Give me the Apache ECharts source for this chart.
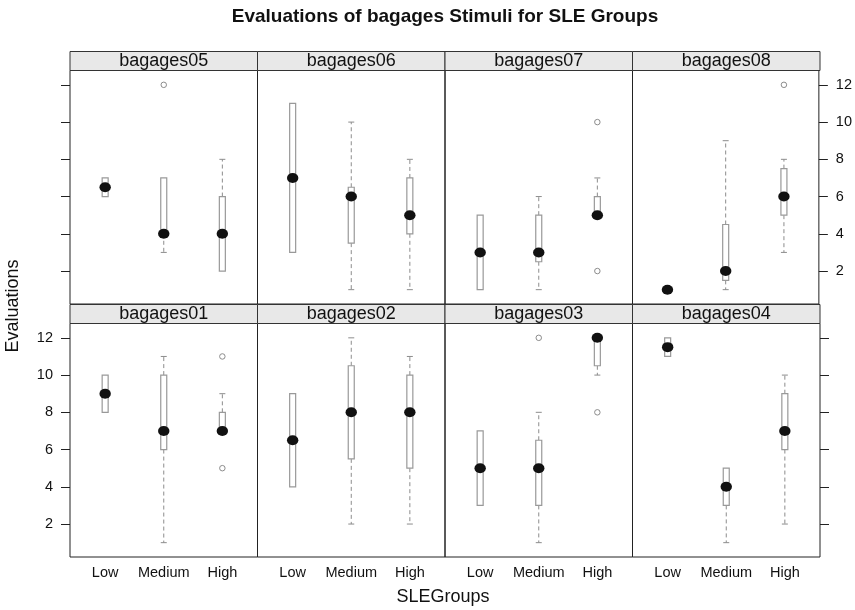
<!DOCTYPE html>
<html><head><meta charset="utf-8">
<script src="https://cdn.jsdelivr.net/npm/echarts@6/dist/echarts.min.js"></script>
<style>html,body{margin:0;padding:0;background:#fff}#c{width:855px;height:610px}</style>
</head><body><div id="c"></div>
<script>
const groups = ['Low', 'Medium', 'High'];
const panelNames = ['bagages05', 'bagages06', 'bagages07', 'bagages08', 'bagages01', 'bagages02', 'bagages03', 'bagages04'];
const yTicks = [2, 4, 6, 8, 10, 12];
// five-number summaries [min, q1, median, q3, max] for Low, Medium, High
const stats05 = [[6, 6, 6.5, 7, 7], [3, 4, 4, 7, 7], [2, 2, 4, 6, 8]];
const stats06 = [[3, 3, 7, 11, 11], [1, 3.5, 6, 6.5, 10], [1, 4, 5, 7, 8]];
const stats07 = [[1, 1, 3, 5, 5], [1, 2.5, 3, 5, 6], [5, 5, 5, 6, 7]];
const stats08 = [[1, 1, 1, 1, 1], [1, 1.5, 2, 4.5, 9], [3, 5, 6, 7.5, 8]];
const stats01 = [[8, 8, 9, 10, 10], [1, 6, 7, 10, 11], [7, 7, 7, 8, 9]];
const stats02 = [[4, 4, 6.5, 9, 9], [2, 5.5, 8, 10.5, 12], [2, 5, 8, 10, 11]];
const stats03 = [[3, 3, 5, 7, 7], [1, 3, 5, 6.5, 8], [10, 10.5, 12, 12, 12]];
const stats04 = [[11, 11, 11.5, 12, 12], [1, 3, 4, 5, 5], [2, 6, 7, 9, 10]];
// outliers [group position (1-based), value]
const out05 = [[2, 12]];
const out06 = [];
const out07 = [[3, 10], [3, 2]];
const out08 = [[3, 12]];
const out01 = [[3, 11], [3, 5]];
const out02 = [];
const out03 = [[2, 12], [3, 8]];
const out04 = [];

const allStats = [stats05, stats06, stats07, stats08, stats01, stats02, stats03, stats04];
const allOut = [out05, out06, out07, out08, out01, out02, out03, out04];

const FONT = '"Liberation Sans", Arial, Helvetica, sans-serif';
const L = 70, PW = 187.5, PH = 233.5, SH = 19;
const rowTop = [70.5, 323.5];

function renderBox(params, api) {
  const x = api.value(0);
  const c = v => api.coord([x, v]);
  const pMin = c(api.value(1)), pQ1 = c(api.value(2)), pMed = c(api.value(3)),
        pQ3 = c(api.value(4)), pMax = c(api.value(5));
  const cx = pMed[0], hw = 3, cw = 3;
  const dash = { stroke: '#8c8c8c', lineWidth: 1, lineDash: [4, 3] };
  const cap = { stroke: '#8c8c8c', lineWidth: 1 };
  const ch = [];
  if (pMax[1] < pQ3[1] - 0.5) {
    ch.push({ type: 'line', shape: { x1: cx, y1: pQ3[1], x2: cx, y2: pMax[1] }, style: dash });
    ch.push({ type: 'line', shape: { x1: cx - cw, y1: pMax[1], x2: cx + cw, y2: pMax[1] }, style: cap });
  }
  if (pMin[1] > pQ1[1] + 0.5) {
    ch.push({ type: 'line', shape: { x1: cx, y1: pQ1[1], x2: cx, y2: pMin[1] }, style: dash });
    ch.push({ type: 'line', shape: { x1: cx - cw, y1: pMin[1], x2: cx + cw, y2: pMin[1] }, style: cap });
  }
  ch.push({ type: 'rect', shape: { x: cx - hw, y: pQ3[1], width: 2 * hw, height: pQ1[1] - pQ3[1] },
            style: { fill: '#fff', stroke: '#999', lineWidth: 1.2 } });
  const rx = 5.7, ry = 5, cy = pMed[1];
  ch.push({ type: 'path',
            shape: { pathData: 'M' + (cx - rx) + ' ' + cy + ' A' + rx + ' ' + ry + ' 0 1 0 ' + (cx + rx) + ' ' + cy +
                               ' A' + rx + ' ' + ry + ' 0 1 0 ' + (cx - rx) + ' ' + cy + ' Z' },
            style: { fill: '#111' } });
  return { type: 'group', children: ch };
}

const grids = [], xAxes = [], yAxes = [], series = [], graphics = [];
panelNames.forEach((name, i) => {
  const row = i < 4 ? 0 : 1, col = i % 4;
  const left = L + col * PW, top = rowTop[row];
  grids.push({ left: left, top: top, width: PW, height: PH, show: true,
               borderColor: '#222', borderWidth: 1, backgroundColor: 'transparent' });
  xAxes.push({ type: 'value', gridIndex: i, min: 0.4, max: 3.6,
    axisLine: { show: false }, axisTick: { show: false }, splitLine: { show: false },
    axisLabel: { show: row === 1, customValues: [1, 2, 3], formatter: v => groups[Math.round(v) - 1] || '',
                 color: '#111', fontSize: 14.5, fontFamily: FONT, margin: 8 } });
  const outer = col === 0 || col === 3;
  const showLab = (col === 0 && row === 1) || (col === 3 && row === 0);
  yAxes.push({ type: 'value', gridIndex: i, min: 0.23, max: 12.77,
    position: col === 3 ? 'right' : 'left',
    axisLine: { show: false }, splitLine: { show: false },
    axisTick: { show: outer, customValues: yTicks, length: 9, lineStyle: { color: '#222' } },
    axisLabel: { show: showLab, customValues: yTicks, color: '#111', fontSize: 14.5, fontFamily: FONT, margin: 17 } });
  series.push({ type: 'custom', xAxisIndex: i, yAxisIndex: i, renderItem: renderBox, clip: false,
    encode: { x: 0, y: [1, 2, 3, 4, 5] }, z: 3,
    data: allStats[i].map((s, g) => [g + 1].concat(s)) });
  series.push({ type: 'scatter', xAxisIndex: i, yAxisIndex: i, symbol: 'circle', symbolSize: 5.5,
    itemStyle: { color: '#ffffff', borderColor: '#8c8c8c', borderWidth: 1, opacity: 1 }, z: 4,
    data: allOut[i].map(o => [o[0], o[1]]) });
  graphics.push({ type: 'rect', shape: { x: left, y: top - SH, width: PW, height: SH },
    style: { fill: '#e8e8e8', stroke: '#333', lineWidth: 1 }, z: 1 });
  graphics.push({ type: 'text', x: left + PW / 2, y: top - SH / 2 + 0.5,
    style: { text: name, fill: '#111', font: '18px ' + FONT, textAlign: 'center', textVerticalAlign: 'middle' }, z: 2 });
});
graphics.push({ type: 'text', x: 445, y: 17,
  style: { text: 'Evaluations of bagages Stimuli for SLE Groups', fill: '#111', font: 'bold 19px ' + FONT,
           textAlign: 'center', textVerticalAlign: 'middle' } });
graphics.push({ type: 'text', x: 13, y: 306, rotation: Math.PI / 2,
  style: { text: 'Evaluations', fill: '#111', font: '18px ' + FONT, textAlign: 'center', textVerticalAlign: 'middle' } });
graphics.push({ type: 'text', x: 443, y: 597,
  style: { text: 'SLEGroups', fill: '#111', font: '18px ' + FONT, textAlign: 'center', textVerticalAlign: 'middle' } });

const chart = echarts.init(document.getElementById('c'), null, { renderer: 'canvas' });
chart.setOption({
  animation: false,
  backgroundColor: '#fff',
  grid: grids, xAxis: xAxes, yAxis: yAxes, series: series,
  graphic: { elements: graphics }
});
</script></body></html>
